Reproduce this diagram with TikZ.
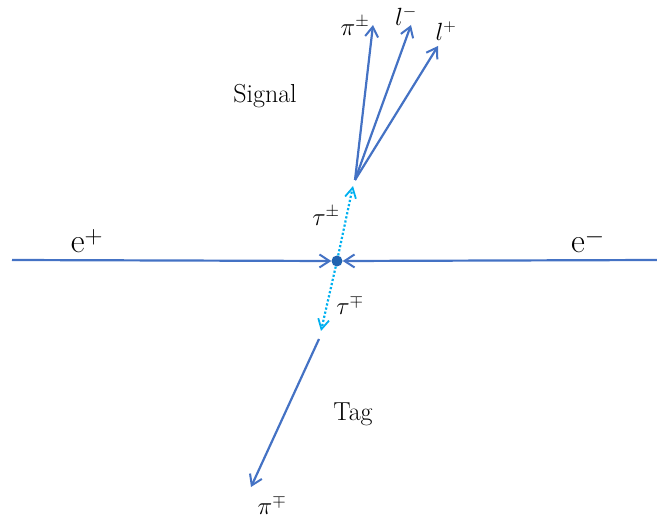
\documentclass[tikz,border=0pt]{standalone}
\usetikzlibrary{arrows.meta}
\definecolor{trk}{HTML}{4472C4}
\definecolor{tau}{HTML}{00B0F0}
\definecolor{dotc}{HTML}{2163B0}
\begin{document}
\begin{tikzpicture}[x=1pt,y=-1pt,
  trkline/.style={draw=trk,line width=2.2pt,-{Straight Barb[length=10pt,width=13pt,line width=2pt]}},
  tauline/.style={draw=tau,line width=2.2pt,dotted,-{Straight Barb[length=10pt,width=11pt,line width=1.8pt,line cap=butt]}},
  lbl/.style={inner sep=0pt,font=\fontsize{26}{30}\selectfont},
  grk/.style={inner sep=0pt,font=\fontsize{25}{29}\selectfont},
  big/.style={inner sep=0pt,font=\fontsize{34}{38}\selectfont}]
\useasboundingbox (0,0) rectangle (657,524);
\coordinate (L) at (12,260);
\coordinate (R) at (657,260);
\node[circle,fill=dotc,inner sep=0pt,minimum size=11pt] (V) at (337,261) {};
\coordinate (S) at (355,180);
\coordinate (T) at (319,339);
\coordinate (Tup) at (353,186);
\coordinate (Tdn) at (321,331);
\coordinate (P1) at (373,25);
\coordinate (P2) at (411,25);
\coordinate (P3) at (438,46);
\coordinate (P4) at (251,487);
\draw[trkline] (L) -- (V.west);
\draw[trkline] (R) -- (V.east);
\draw[tauline] (V) -- (Tup);
\draw[tauline] (V) -- (Tdn);
\draw[trkline] (S) -- (P1);
\draw[trkline] (S) -- (P2);
\draw[trkline] (S) -- (P3);
\draw[trkline] (T) -- (P4);
\node[big] (ep) at (87,241) {e$^{+}$};
\node[big] (em) at (588,241) {e$^{-}$};
\node[lbl] (sig) at (265,96) {Signal};
\node[lbl] (tag) at (353,414) {Tag};
\node[grk] (pipm) at (355,26) {$\pi^{\pm}$};
\node[grk] (lm) at (406,16) {$l^{-}$};
\node[grk] (lp) at (446,31) {$l^{+}$};
\node[grk] (taupm) at (326,216) {$\tau^{\pm}$};
\node[grk] (taump) at (350,305) {$\tau^{\mp}$};
\node[grk] (pimp) at (272,505) {$\pi^{\mp}$};
\end{tikzpicture}
\end{document}
